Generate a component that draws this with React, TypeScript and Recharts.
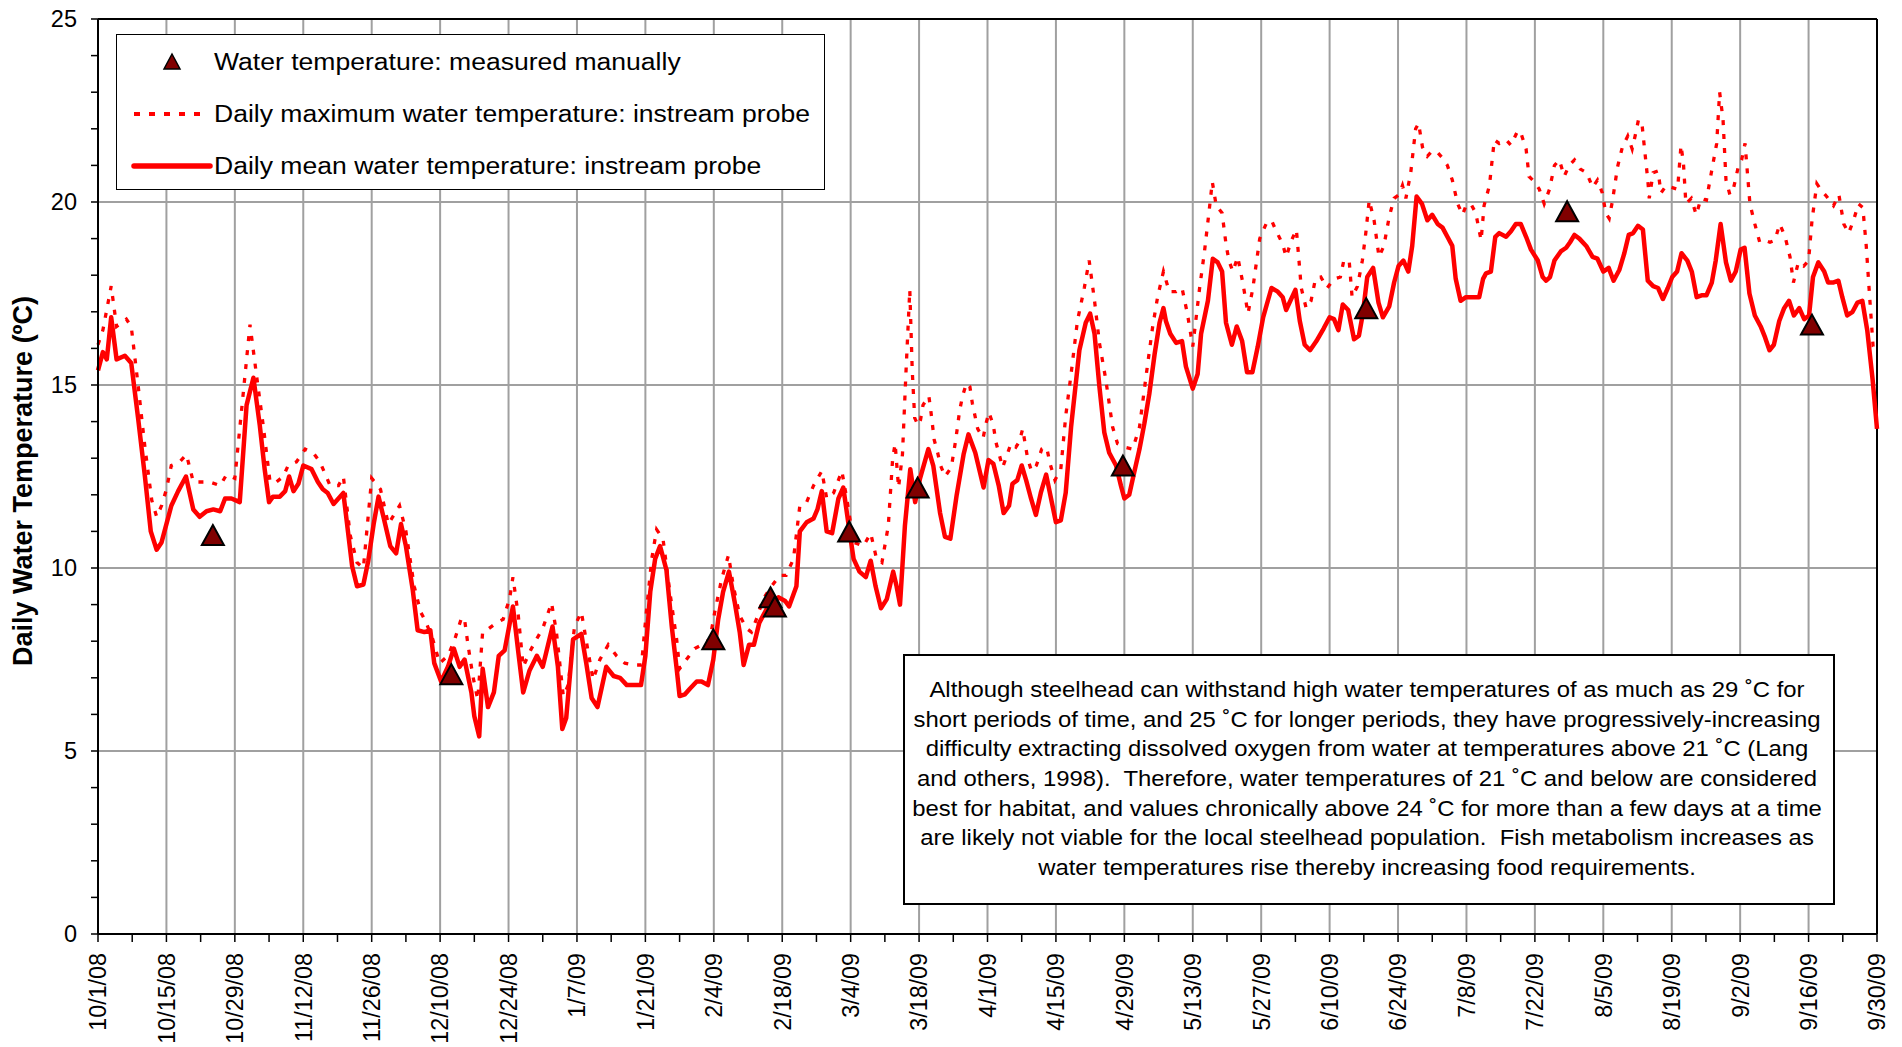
import React from 'react';
import { ComposedChart, Line, Scatter, XAxis, YAxis, CartesianGrid, ReferenceLine } from 'recharts';

// day offset from 10/1/08, water temperature in deg C
const MEAN_TEMP: [number, number][] = [
  [0,15.4],[1,15.9],[1.8,15.7],[2.7,16.85],[3.8,15.7],[5.5,15.8],[6.8,15.6],[8.2,14.1],[9.6,12.5],[10.8,11.0],[12,10.5],[13,10.7],[15,11.7],[16.4,12.1],[18,12.5],[19.5,11.6],[20.8,11.4],[22.2,11.55],[23.6,11.6],[25,11.55],[26,11.9],[27.3,11.9],[29,11.8],[30.4,14.45],[31.8,15.2],[33.1,13.9],[34.1,12.7],[35,11.8],[35.8,11.95],[37.2,11.95],[38.3,12.1],[39.1,12.5],[40,12.1],[41,12.3],[42,12.8],[43.7,12.7],[45,12.35],[46,12.15],[47,12.05],[48.2,11.75],[50.2,12.05],[52,10.05],[53,9.5],[54.3,9.55],[55.3,10.2],[56.4,11.2],[57.4,11.95],[58.4,11.4],[59.8,10.6],[61,10.4],[62,11.2],[63,10.6],[64.4,9.4],[65.4,8.3],[66.8,8.25],[68,8.3],[68.8,7.4],[70.2,6.9],[71.6,7.3],[72.8,7.8],[74,7.3],[75,7.5],[76.4,6.6],[77,5.95],[78,5.4],[78.7,7.25],[79.8,6.2],[81,6.6],[82,7.6],[83.2,7.75],[84.9,8.95],[86,7.7],[87,6.6],[88.3,7.2],[89.8,7.6],[91,7.3],[93,8.4],[94.1,7.3],[95,5.6],[95.8,5.9],[97.2,8.05],[98.9,8.2],[99.9,7.4],[101,6.45],[102.2,6.2],[104,7.3],[105.5,7.05],[106.8,7.0],[108.2,6.8],[109.6,6.8],[111.1,6.8],[112,7.6],[113,9.35],[114,10.25],[115,10.6],[116.3,9.95],[117.4,8.4],[118.4,7.25],[119,6.5],[120.1,6.55],[121.1,6.7],[122.5,6.9],[123.5,6.9],[124.8,6.8],[125.9,7.5],[126.9,8.6],[127.9,9.35],[129.1,9.9],[130.3,9.05],[131.3,8.25],[132.1,7.35],[133.2,7.9],[134.2,7.9],[135.3,8.5],[136.5,8.8],[137.5,9.05],[139.2,9.2],[140.6,9.1],[141.4,8.95],[142.9,9.5],[143.6,11.0],[145,11.25],[146.4,11.35],[147.2,11.6],[148.1,12.1],[149.1,11.0],[150.2,10.95],[151.5,11.9],[152.5,12.2],[153.5,11.25],[154.6,10.25],[155.8,9.9],[157.1,9.75],[158.1,10.2],[159.1,9.5],[160.2,8.9],[161.4,9.15],[162.7,9.9],[163.4,9.5],[164.1,9.0],[165.1,11.15],[166.2,12.7],[167.2,11.8],[168.2,12.45],[169.9,13.25],[170.9,12.8],[172.3,11.5],[173.3,10.85],[174.4,10.8],[175.7,12.0],[177.1,13.1],[178.1,13.65],[179.5,13.15],[181.2,12.2],[182.2,12.95],[183.2,12.85],[184.3,12.25],[185.3,11.5],[186.4,11.7],[187.1,12.3],[188.1,12.4],[189,12.8],[189.9,12.4],[190.9,11.9],[191.9,11.45],[192.9,12.05],[194,12.55],[195,11.9],[196,11.25],[197,11.3],[198,12.05],[199.1,13.85],[200.8,15.95],[202.1,16.7],[203,16.95],[203.9,16.4],[204.9,14.95],[205.9,13.7],[206.9,13.15],[208.3,12.8],[209.3,12.25],[210,11.9],[211,12.0],[212,12.6],[213.1,13.25],[214.1,13.95],[215.1,14.75],[216.2,15.85],[217.2,16.7],[218,17.1],[218.5,16.75],[219.4,16.4],[220.6,16.15],[221.8,16.2],[222.6,15.5],[224,14.9],[225,15.3],[225.7,16.4],[227.1,17.3],[228.1,18.45],[229.1,18.35],[230,18.1],[230.8,16.7],[232,16.1],[233,16.6],[234.1,16.2],[235.1,15.35],[236.2,15.35],[237.3,16.05],[238.4,16.85],[240.1,17.65],[241.4,17.55],[242.4,17.4],[243.1,17.05],[245,17.6],[245.9,16.75],[246.9,16.1],[248,15.95],[249.3,16.2],[250.8,16.55],[252,16.85],[252.9,16.8],[253.8,16.5],[254.7,17.2],[255.8,17.05],[257,16.25],[258,16.35],[258.8,16.95],[259.7,17.95],[260.9,18.2],[262,17.25],[262.9,16.85],[264.2,17.15],[265.2,17.8],[266.1,18.25],[267.1,18.4],[268.1,18.1],[268.9,18.8],[269.8,20.15],[270.9,19.95],[272,19.5],[273,19.65],[274.1,19.4],[275.1,19.3],[276.1,19.05],[277.1,18.8],[277.8,17.9],[278.8,17.3],[279.9,17.4],[281.2,17.4],[282.6,17.4],[283.4,17.9],[284,18.05],[285,18.1],[285.9,19.05],[286.7,19.15],[288.1,19.05],[289.1,19.2],[290.1,19.4],[291.1,19.4],[292.2,19.05],[293.2,18.7],[294.6,18.4],[295.6,17.95],[296.3,17.85],[297.1,17.95],[298,18.4],[299.3,18.65],[300.4,18.75],[301.2,18.9],[302.1,19.1],[303.1,19.0],[304.5,18.8],[305.8,18.5],[306.8,18.45],[308,18.1],[309.1,18.2],[310.1,17.85],[311.3,18.15],[312.3,18.6],[313.2,19.1],[314.1,19.15],[315.1,19.35],[316.1,19.25],[317.1,17.85],[318.2,17.7],[319.2,17.65],[320.2,17.35],[321.2,17.65],[322.1,17.95],[323.1,18.1],[324,18.6],[325.2,18.4],[326.1,18.1],[327.1,17.4],[328.1,17.45],[329.1,17.45],[330.2,17.8],[331,18.4],[332,19.4],[333.1,18.35],[334.1,17.85],[335.1,18.1],[336.1,18.7],[336.9,18.75],[337.9,17.5],[339,16.9],[340.2,16.6],[341.1,16.3],[342,15.95],[342.9,16.1],[344,16.75],[345,17.1],[346,17.3],[347,16.9],[348.1,17.1],[349.1,16.8],[350.1,16.9],[350.9,17.95],[352,18.35],[353.2,18.1],[354,17.8],[355,17.8],[356.1,17.85],[356.9,17.4],[357.9,16.9],[359,17.0],[360,17.25],[361,17.3],[362,16.5],[363.1,15.15],[364,13.8],
];

const MAX_TEMP: [number, number][] = [
  [0,16.1],[1,16.5],[2.7,17.7],[3.8,16.6],[5.8,16.8],[6.8,16.6],[8.2,15.0],[9.6,13.3],[11,11.85],[12,11.4],[13,11.7],[14,12.15],[15,12.8],[16.7,12.9],[18.1,13.1],[19.5,12.35],[21.2,12.35],[22.9,12.35],[25,12.25],[26.3,12.55],[28,12.45],[29.7,14.75],[31.1,16.65],[32.5,15.2],[33.8,13.9],[35.2,12.35],[36.5,12.35],[37.9,12.5],[38.9,12.8],[40.6,12.9],[42.4,13.25],[44,13.15],[45.4,12.9],[47.5,12.25],[49.2,12.25],[50.2,12.5],[51.6,10.9],[53,10.15],[54.3,10.0],[56,12.45],[57.8,12.15],[59.4,11.2],[61.7,11.7],[63,11.0],[64.7,9.5],[66,8.8],[67,8.55],[68.5,8.05],[69.9,7.4],[71.6,7.6],[73,8.05],[74.4,8.65],[75,8.6],[75.7,7.9],[76.7,7.05],[77.7,6.4],[78.7,8.25],[80,8.35],[81.5,8.5],[82.9,8.6],[84.2,9.15],[84.9,9.75],[86,8.7],[87,7.3],[88.3,7.7],[89.7,8.05],[91,8.35],[92.8,9.05],[93.8,8.25],[95.2,6.5],[96.2,6.8],[97.5,8.4],[98.9,8.8],[100.3,7.7],[101.3,6.95],[102.7,7.5],[104.4,7.9],[106.1,7.6],[107.8,7.4],[109.6,7.35],[111.2,7.35],[112.2,8.8],[113.3,10.25],[114.3,11.05],[115.6,10.8],[117,9.35],[118.4,8.05],[119,7.25],[120.4,7.5],[122.1,7.8],[123.5,7.9],[125.2,8.05],[126.2,8.8],[127.6,9.7],[129,10.35],[130,9.5],[131.3,8.7],[132.7,8.35],[133.7,8.25],[134.7,8.6],[136.1,9.15],[137.8,9.5],[139.5,9.8],[140.8,9.8],[142.3,10.25],[143.6,11.7],[145,11.8],[146.4,12.25],[148.1,12.65],[149.1,11.9],[150.5,12.05],[152.2,12.65],[153.2,11.9],[154.6,10.7],[156.6,10.6],[158.1,10.95],[159.3,10.25],[160.4,10.15],[161.7,11.15],[162.6,13.0],[163.1,13.4],[163.8,12.2],[164.6,13.1],[165.3,15.3],[166.1,17.6],[166.6,15.4],[167.1,14.1],[167.8,13.9],[168.3,14.05],[168.8,14.45],[170,14.7],[170.4,14.3],[171.1,13.5],[171.8,13.15],[172.4,12.8],[173.3,12.5],[174.6,12.75],[175.5,13.5],[176.3,14.3],[176.9,14.7],[177.7,15.05],[178.4,14.95],[178.9,14.5],[180,13.8],[181.1,13.55],[181.7,13.95],[182.3,14.25],[183.2,13.9],[183.7,13.45],[184.4,13.1],[185.1,12.75],[185.9,13.05],[186.8,13.4],[187.8,13.3],[188.5,13.45],[189.2,13.8],[189.7,13.4],[190.2,13.0],[191,12.65],[192,12.8],[193.1,13.25],[194.1,13.3],[194.8,12.85],[195.8,12.4],[197,12.7],[198,14.15],[199.1,15.3],[200.4,16.75],[201.8,17.65],[202.8,18.4],[203.9,17.3],[204.9,16.15],[206.2,15.15],[207.6,13.85],[208.6,13.4],[210,13.3],[211.7,13.25],[213.1,13.85],[214.4,15.2],[215.8,16.6],[216.8,17.4],[218,18.1],[219.2,17.55],[220.6,17.55],[221.8,17.65],[222.9,16.95],[224,16.05],[225.4,17.65],[226.4,18.65],[227.3,19.7],[228,20.55],[228.8,19.9],[230,19.7],[230.8,18.85],[231.4,18.4],[232.2,18.1],[233.2,18.5],[234.3,17.75],[235.3,16.95],[236.3,17.65],[237.7,19.0],[239,19.4],[240.1,19.5],[241.1,19.2],[242.4,18.85],[243.1,18.5],[244.2,18.95],[245.2,19.25],[246.2,17.65],[247.2,17.1],[248.2,17.3],[249.1,17.9],[250.2,17.95],[251.5,17.65],[252.9,17.9],[254.2,17.95],[254.9,18.4],[256,18.4],[256.6,17.4],[257.7,17.7],[258.7,18.4],[259.4,19.15],[260.1,20.05],[261.1,19.5],[262.1,18.5],[263.1,18.8],[264.2,19.6],[265.2,20.1],[266.2,20.2],[266.9,20.45],[267.6,20.1],[268.6,20.8],[269.6,22.0],[270.2,22.15],[271,21.5],[272,21.25],[273,21.4],[274.1,21.35],[275.1,21.2],[276.1,21.0],[277.1,20.6],[278.2,19.95],[279.2,19.65],[279.9,19.9],[280.9,19.95],[281.9,19.7],[283,18.95],[283.6,19.9],[284.7,20.45],[285.7,21.7],[286.7,21.6],[288.1,21.7],[289.1,21.55],[290.5,21.95],[291.1,21.9],[292.2,21.45],[292.8,20.7],[293.9,20.55],[294.9,20.35],[295.9,19.95],[297,20.35],[298,21.0],[299,21.15],[300,20.7],[301,21.0],[302.1,21.15],[303.3,20.9],[304.6,20.8],[305.8,20.4],[306.8,20.6],[307.8,20.25],[308.5,19.7],[309.2,19.55],[309.9,20.05],[310.9,20.95],[311.9,21.5],[313,21.8],[313.9,21.45],[314.5,21.8],[315.2,22.25],[315.9,22.15],[316.4,21.5],[317.1,20.6],[317.4,20.1],[318.2,20.8],[319.2,20.85],[319.8,20.25],[320.9,20.45],[321.9,20.4],[323.2,20.35],[323.9,21.55],[324.4,21.05],[324.9,19.95],[326,20.1],[327,19.65],[328,20.1],[329.1,20.05],[330.1,20.8],[331.2,21.6],[331.8,23.0],[332.5,22.25],[333.1,20.6],[333.9,20.2],[334.6,20.35],[335.6,20.95],[336.3,21.15],[337,21.6],[338,19.95],[339,19.4],[340,18.9],[341,18.95],[342.1,18.9],[343.1,18.95],[344.1,19.4],[345.2,19.05],[346.2,18.5],[346.9,17.8],[347.9,18.35],[349,18.25],[350,18.4],[350.7,19.5],[351.7,20.5],[352.7,20.3],[353.7,20.15],[355.1,19.9],[356.2,20.2],[357.2,19.4],[358.2,19.15],[359.2,19.5],[360.2,19.95],[361.1,19.85],[361.8,18.8],[362.5,17.4],[363.2,16.05],[364,15.85],
];

const MANUAL_TEMP: [number, number][] = [
  [23.5,10.9],[72.3,7.1],[125.9,8.05],[137.6,9.2],[138.5,8.95],[153.7,11.0],[167.7,12.2],[209.7,12.8],[259.5,17.1],[300.6,19.75],[350.7,16.65],
];

const X_TICK_LABELS = [
  '10/1/08','10/15/08','10/29/08','11/12/08','11/26/08','12/10/08','12/24/08','1/7/09','1/21/09',
  '2/4/09','2/18/09','3/4/09','3/18/09','4/1/09','4/15/09','4/29/09','5/13/09','5/27/09','6/10/09',
  '6/24/09','7/8/09','7/22/09','8/5/09','8/19/09','9/2/09','9/16/09','9/30/09',
];
const Y_TICKS = [0,1,2,3,4,5,6,7,8,9,10,11,12,13,14,15,16,17,18,19,20,21,22,23,24,25];
const Y_GRID = [5, 10, 15, 20];

const NOTE_LINES = [
  'Although steelhead can withstand high water temperatures of as much as 29 ˚C for',
  'short periods of time, and 25 ˚C for longer periods, they have progressively-increasing',
  'difficulty extracting dissolved oxygen from water at temperatures above 21 ˚C (Lang',
  'and others, 1998).  Therefore, water temperatures of 21 ˚C and below are considered',
  'best for habitat, and values chronically above 24 ˚C for more than a few days at a time',
  'are likely not viable for the local steelhead population.  Fish metabolism increases as',
  'water temperatures rise thereby increasing food requirements.',
];

const FONT = '"Liberation Sans", Arial, sans-serif';

const toRows = (pts: [number, number][]) => pts.map(([day, t]) => ({ day, t }));
const meanData = toRows(MEAN_TEMP);
const maxData = toRows(MAX_TEMP);
const manualData = toRows(MANUAL_TEMP);

// minor tick marks every 7 days, gridlines every 14
const xTicks = Array.from({ length: 53 }, (_, i) => i * 7);
const xGrid = Array.from({ length: 25 }, (_, i) => (i + 1) * 14);

const DateTick = (props: any) => {
  const { x, y, payload } = props;
  const v = payload.value;
  if (v % 14 !== 0) return <g />;
  return (
    <text x={x} y={y} transform={`rotate(-90 ${x} ${y})`} textAnchor="end" dy="0.36em"
      fontSize={23.3} fill="#000" fontFamily={FONT}>
      {X_TICK_LABELS[v / 14]}
    </text>
  );
};

const TempTick = (props: any) => {
  const { x, y, payload } = props;
  if (payload.value % 5 !== 0) return <g />;
  return (
    <text x={x} y={y} textAnchor="end" dy="0.36em" fontSize={23.5} fill="#000" fontFamily={FONT}>
      {payload.value}
    </text>
  );
};

const Triangle = (props: any) => {
  const { cx, cy } = props;
  return (
    <polygon points={`${cx},${cy - 10} ${cx + 11},${cy + 10} ${cx - 11},${cy + 10}`}
      fill="#800000" stroke="#000" strokeWidth={2} strokeLinejoin="miter" />
  );
};

function LegendBox() {
  const rows = [
    'Water temperature: measured manually',
    'Daily maximum water temperature: instream probe',
    'Daily mean water temperature: instream probe',
  ];
  const ys = [27, 79, 131];
  return (
    <div style={{ position: 'absolute', left: 116, top: 34, width: 709, height: 156, border: '1px solid #000', background: '#fff', boxSizing: 'border-box' }}>
      <svg width={707} height={154} style={{ position: 'absolute', left: 0, top: 0 }}>
        <polygon points={`55,${ys[0] - 8} 63,${ys[0] + 7} 47,${ys[0] + 7}`} fill="#800000" stroke="#000" strokeWidth={1.5} />
        <line x1={17} x2={85} y1={ys[1]} y2={ys[1]} stroke="#ff0000" strokeWidth={4} strokeDasharray="6 9" />
        <line x1={17} x2={93} y1={ys[2]} y2={ys[2]} stroke="#ff0000" strokeWidth={5.5} strokeLinecap="round" />
        {rows.map((r, i) => (
          <text key={r} transform={`translate(97 ${ys[i]}) scale(1.13 1)`} dy="0.36em" fontSize={23.5} fill="#000" fontFamily={FONT}>
            {r}
          </text>
        ))}
      </svg>
    </div>
  );
}

function NoteBox() {
  return (
    <div style={{ position: 'absolute', left: 903, top: 654, width: 932, height: 251, border: '2px solid #000', background: '#fff', boxSizing: 'border-box' }}>
      <svg width={928} height={247} style={{ position: 'absolute', left: 0, top: 0 }}>
        {NOTE_LINES.map((l, i) => (
          <text key={i} transform={`translate(462 ${33 + i * 29.7}) scale(1.085 1)`} textAnchor="middle" dy="0.36em"
            fontSize={22} fill="#000" fontFamily={FONT} style={{ whiteSpace: 'pre' }}>
            {l}
          </text>
        ))}
      </svg>
    </div>
  );
}

export default function App() {
  return (
    <div style={{ position: 'absolute', left: 0, top: 0, width: 1902, height: 1047, background: '#fff', overflow: 'hidden', fontFamily: FONT }}>
      <ComposedChart width={1902} height={1047} margin={{ top: 19, right: 25, left: 0, bottom: 0 }}>
        <CartesianGrid horizontalValues={Y_GRID} vertical={false} stroke="#a0a0a0" strokeWidth={2} />
        <XAxis type="number" dataKey="day" domain={[0, 364]} ticks={xTicks} interval={0} height={113}
          tickSize={8} tickMargin={11} tick={<DateTick />}
          axisLine={{ stroke: '#000', strokeWidth: 2 }} tickLine={{ stroke: '#000', strokeWidth: 1.5 }} />
        <YAxis type="number" domain={[0, 25]} ticks={Y_TICKS} interval={0} width={98}
          tickSize={7} tickMargin={14} tick={<TempTick />}
          axisLine={{ stroke: '#000', strokeWidth: 2 }} tickLine={{ stroke: '#000', strokeWidth: 1.5 }} />
        {xGrid.map((v) => (
          <ReferenceLine key={v} x={v} stroke="#a0a0a0" strokeWidth={2} />
        ))}
        <ReferenceLine y={25} stroke="#000" strokeWidth={2} />
        <ReferenceLine x={364} stroke="#000" strokeWidth={2} />
        <Line data={maxData} dataKey="t" type="linear" stroke="#ff0000" strokeWidth={3.3} strokeDasharray="5 9"
          dot={false} isAnimationActive={false} />
        <Line data={meanData} dataKey="t" type="linear" stroke="#ff0000" strokeWidth={4.5} strokeLinejoin="round"
          dot={false} isAnimationActive={false} />
        <Scatter data={manualData} dataKey="t" shape={Triangle} isAnimationActive={false} />
      </ComposedChart>
      <LegendBox />
      <NoteBox />
      <div style={{ position: 'absolute', left: 23, top: 481, transform: 'translate(-50%, -50%) rotate(-90deg)', whiteSpace: 'nowrap', fontWeight: 'bold', fontSize: 27, color: '#000' }}>
        Daily Water Temperature (ºC)
      </div>
    </div>
  );
}
